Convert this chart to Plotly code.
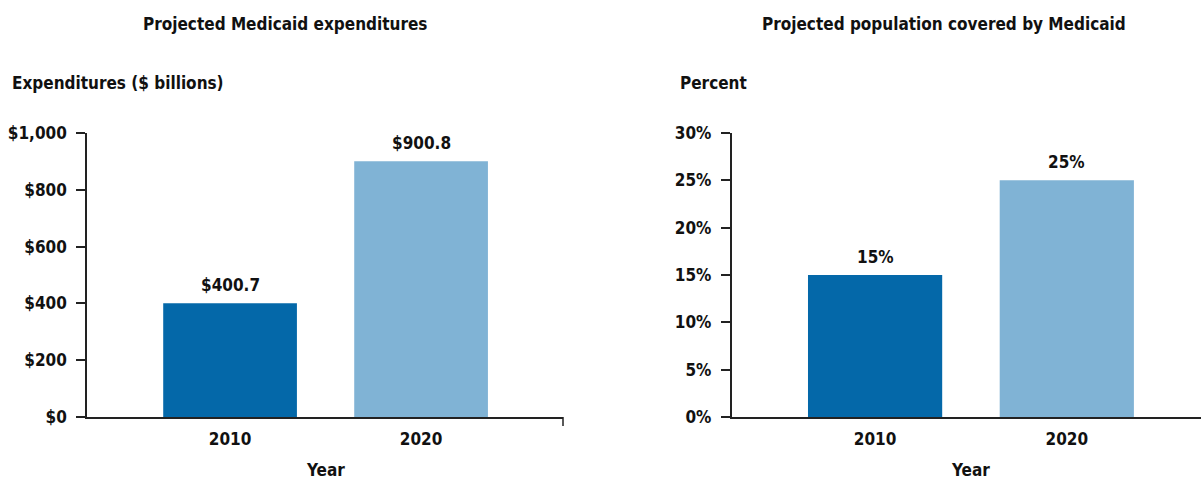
import plotly.graph_objects as go

# ---- data ----
years = ["2010", "2020"]
expenditures = [400.7, 900.8]          # $ billions
coverage_pct = [15, 25]                # percent of population
exp_ticks = [0, 200, 400, 600, 800, 1000]
exp_tick_text = ["$0", "$200", "$400", "$600", "$800", "$1,000"]
pct_ticks = [0, 5, 10, 15, 20, 25, 30]
pct_tick_text = ["0%", "5%", "10%", "15%", "20%", "25%", "30%"]
bar_colors = ["#0468a9", "#80b3d5"]

W, H = 1201, 479
FONT = "DejaVu Sans Condensed, Liberation Sans Narrow, Arial Narrow, sans-serif"
FS = 17
TXT = "#111111"
AX = "#222222"

def px_x(p):
    return p / W

def px_y(p):
    return 1 - p / H

fig = go.Figure()

fig.add_trace(go.Bar(x=years, y=expenditures, marker=dict(color=bar_colors, line=dict(width=0)),
                     width=0.70, xaxis="x", yaxis="y", showlegend=False, hoverinfo="x+y"))
fig.add_trace(go.Bar(x=years, y=coverage_pct, marker=dict(color=bar_colors, line=dict(width=0)),
                     width=0.70, xaxis="x2", yaxis="y2", showlegend=False, hoverinfo="x+y"))

font = dict(family=FONT, size=FS, color=TXT, weight="bold")

ydom = [px_y(417), px_y(133)]
common_x = dict(type="category", showgrid=False, zeroline=False, showline=True, linecolor=AX,
                linewidth=1.5, ticks="", tickfont=font,
                ticklabelstandoff=6, automargin=False, fixedrange=True)
common_y = dict(showgrid=False, zeroline=False, showline=True, linecolor=AX, linewidth=1.5,
                ticks="outside", ticklen=9, tickwidth=1.5, tickcolor=AX,
                tickfont=font, ticklabelstandoff=6,
                automargin=False, fixedrange=True, tickmode="array")

fig.update_layout(
    width=W, height=H, autosize=False, template="none",
    paper_bgcolor="white", plot_bgcolor="white",
    margin=dict(l=0, r=0, t=0, b=0),
    xaxis=dict(common_x, domain=[px_x(87), px_x(563)], range=[-0.749, 1.743], anchor="y"),
    yaxis=dict(common_y, domain=ydom, range=[0, 1000], tickvals=exp_ticks,
               ticktext=exp_tick_text, anchor="x"),
    xaxis2=dict(common_x, domain=[px_x(731.5), 1.0], range=[-0.749, 1.70], anchor="y2"),
    yaxis2=dict(common_y, domain=ydom, range=[0, 30], tickvals=pct_ticks,
                ticktext=pct_tick_text, anchor="x2"),
)

ann = []
# value labels above bars (category index positions)
for i, v in enumerate(expenditures):
    ann.append(dict(x=i, y=v, xref="x", yref="y", text=f"${v:.1f}", showarrow=False,
                    yanchor="middle", yshift=18, font=font))
for i, v in enumerate(coverage_pct):
    ann.append(dict(x=i, y=v, xref="x2", yref="y2", text=f"{v}%", showarrow=False,
                    yanchor="middle", yshift=18, font=font))
# titles
ann.append(dict(x=px_x(285), y=px_y(24), xref="paper", yref="paper", text="Projected Medicaid expenditures",
                showarrow=False, xanchor="center", yanchor="middle", font=font))
ann.append(dict(x=px_x(944), y=px_y(24), xref="paper", yref="paper",
                text="Projected population covered by Medicaid",
                showarrow=False, xanchor="center", yanchor="middle", font=font))
# y-axis titles
ann.append(dict(x=px_x(10), y=px_y(83), xref="paper", yref="paper", text="Expenditures ($ billions)",
                showarrow=False, xanchor="left", yanchor="middle", font=font))
ann.append(dict(x=px_x(678), y=px_y(83), xref="paper", yref="paper", text="Percent",
                showarrow=False, xanchor="left", yanchor="middle", font=font))
# x-axis titles
ann.append(dict(x=0.5, y=px_y(470), xref="x", yref="paper", text="Year",
                showarrow=False, xanchor="center", yanchor="middle", font=font))
ann.append(dict(x=0.5, y=px_y(470), xref="x2", yref="paper", text="Year",
                showarrow=False, xanchor="center", yanchor="middle", font=font))
fig.update_layout(annotations=ann)

# end tick on left x-axis
fig.add_shape(type="line", xref="x domain", yref="paper", x0=1, x1=1,
              y0=px_y(417), y1=px_y(426), line=dict(color=AX, width=1.5))

fig.write_html("out.html", config={"displayModeBar": False},
               post_script="document.body.style.margin='0';document.body.style.overflow='hidden';")
